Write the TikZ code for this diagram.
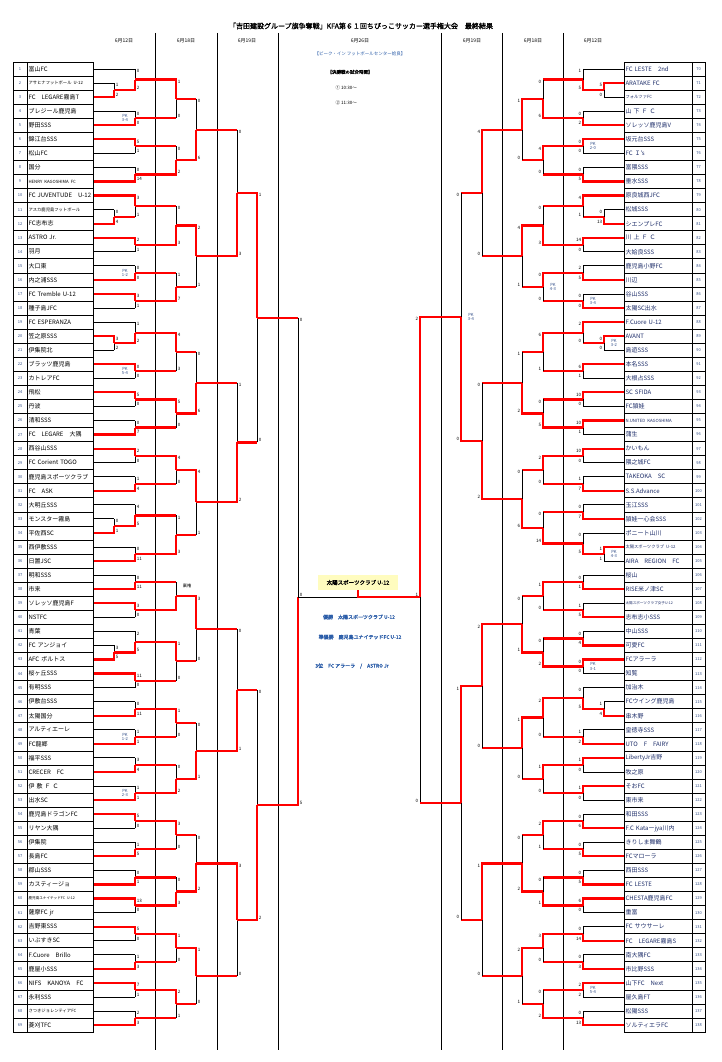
\documentclass[tikz,border=0pt]{standalone}
\usepackage{fontspec}
\setmainfont{Noto Sans CJK JP}
\newfontfamily\jpb[FakeBold=1.5]{Noto Sans CJK JP}
\usetikzlibrary{calc,positioning}

\definecolor{tblue}{HTML}{2A5CA8}
\definecolor{nblue}{HTML}{34508A}
\definecolor{rname}{HTML}{1E2E6A}

\newcommand\sm{\fontsize{4.3}{5}\selectfont}
\newcommand\xs{\fontsize{3.6}{4}\selectfont}

\tikzset{
  team/.style={draw, line width=.7pt, minimum height=14.06pt, inner sep=1.2pt, align=left, font=\fontsize{6}{7}\selectfont},
  num/.style={draw, line width=.7pt, minimum height=14.06pt, inner sep=0pt, font=\fontsize{4}{5}\selectfont, text=nblue},
  rd/.style={red, line width=2.2pt},
  bk/.style={black, line width=.9pt},
  hdr/.style={font=\fontsize{5}{6}\selectfont},
  col/.style={line width=.8pt},
  res/.style={text=tblue, font=\jpb\fontsize{5}{6}\selectfont},
}

% match: name, top in, bottom in, x, top score, bottom score, winner t/b, loser line
\newcommand\mt[8]{%
  \coordinate (#1x) at (#4,0);
  \coordinate (#1a) at (#1x |- #2);
  \coordinate (#1b) at (#1x |- #3);
  \coordinate (#1) at ($(#1a)!.5!(#1b)$);
  \if t#7
    \draw[#8] (#3) -- (#1b);
    \draw[bk] (#1b) -- (#1);
    \draw[rd] (#2) -- (#1a) -- (#1);
  \else
    \draw[#8] (#2) -- (#1a);
    \draw[bk] (#1a) -- (#1);
    \draw[rd] (#3) -- (#1b) -- (#1);
  \fi
  \node[scT] at (#1a) {#5};
  \node[scB] at (#1b) {#6};
}
\newcommand\pk[2]{\node[pk, anchor=south] at (#1) {PK}; \node[pk, anchor=north] at (#1) {#2};}

\begin{document}
\begin{tikzpicture}[x=1pt, y=-1pt]
  \useasboundingbox (0,0) rectangle (722,1062);
  \fill[white] (0,0) rectangle (722,1062);

  % Title and headers
  \node[font=\jpb\fontsize{7}{8}\selectfont] (title) at (361,26) {「吉田建設グループ旗争奪戦」KFA第６１回ちびっこサッカー選手権大会　最終結果};
  \foreach \cx in {155,217,278,441,502,563}
    \draw[col] (\cx,33) -- (\cx,1050);
  \foreach \cx/\d in {124/6月12日, 186/6月18日, 247/6月19日, 360/6月26日, 472/6月19日, 533/6月18日, 593/6月12日}
    \node[hdr] at (\cx,41) {\d};

  % Venue and times
  \node[text=tblue, font=\fontsize{4.5}{5}\selectfont] (venue) at (360,54) {【ピーク・イン フットボールセンター姶良】};
  \node[font=\jpb\fontsize{4.5}{5}\selectfont] (times) at (350,72) {【決勝戦の試合時間】};
  \node[anchor=west, font=\fontsize{4.5}{5}\selectfont] (t1) at (332,88) {① 10:30～};
  \node[anchor=west, font=\fontsize{4.5}{5}\selectfont] (t2) at (332,103) {② 11:30～};

  % Left teams
  \foreach \nm [count=\i] in {富山FC, {\sm アサヒナフットボール U-12}, FC　LEGARE霧島T, ブレジール鹿児島, 野田SSS,
      錦江台SSS, 松山FC, 国分, {\sm HENRY KAGOSHIMA FC}, FC JUVENTUDE　U-12,
      {\sm アスカ鹿児島フットボール}, FC志布志, ASTRO Jr., 羽月, 大口東,
      内之浦SSS, FC Tremble U-12, 種子島JFC, FC ESPERANZA, 笠之原SSS,
      伊集院北, ブラッツ鹿児島, カトレアFC, 飛松, 丹波,
      清和SSS, FC　LEGARE　大隅, 西谷山SSS, FC Corient TOGO, 鹿児島スポーツクラブ,
      FC　ASK, 大明丘SSS, モンスター霧島, 平佐西SC, 西伊敷SSS,
      日置JSC, 明和SSS, 市来, ソレッソ鹿児島F, NSTFC,
      青葉, FC アンジョイ, AFC ボルトス, 桜ヶ丘SSS, 有明SSS,
      伊敷台SSS, 太陽国分, アルティエーレ, FC龍郷, 福平SSS,
      CRECER　FC, 伊 敷 Ｆ Ｃ, 出水SC, 鹿児島ドラゴンFC, リヤン大隅,
      伊集院, 長島FC, 郡山SSS, カスティージョ, {\xs 鹿児島ユナイテッドFC U-12},
      薩摩FC jr, 吉野東SSS, いぶすきSC, F.Cuore　Brillo, 鹿屋小SSS,
      NIFS　KANOYA　FC, 永利SSS, {\sm さつきジョレンティアFC}, 菱刈TFC}{
    \pgfmathsetmacro\yy{69+(\i-1)*14.06}
    \node[num, minimum width=14pt] (N\i) at (20,\yy) {\i};
    \node[team, text width=63.6pt, anchor=west] (T\i) at (27,\yy) {\nm};
  }

  % Right teams
  \foreach \nm [count=\i from 70] in {FC LESTE　2nd, ARATAKE FC, {\sm フォルツァFC}, 山 下 Ｆ Ｃ, ソレッソ鹿児島V,
      坂元台SSS, FC Ｉ's, 富隈SSS, 垂水SSS, 原良城西JFC,
      松城SSS, シエンプレFC, 川 上 Ｆ Ｃ, 大姶良SSS, 鹿児島小野FC,
      川辺, 谷山SSS, 太陽SC出水, F.Cuore U-12, AVANT,
      島遊SSS, 本名SSS, 大根占SSS, SC SFIDA, FC頴娃,
      {\sm N.UNITED KAGOSHIMA}, 蒲生, かいもん, 隈之城FC, TAKEOKA　SC,
      S.S.Advance, 玉江SSS, 頴娃一心会SSS, ポニート山川, {\sm 太陽スポーツクラブ U-12},
      AIRA　REGION　FC, 桜山, RISE米ノ津SC, {\xs 太陽スポーツクラブ女子U-12}, 志布志小SSS,
      中山SSS, 可愛FC, FCアラーラ, 知覧, 加治木,
      FCウイング鹿児島, 串木野, 皇徳寺SSS, UTO　F　FAIRY, LibertyJr吉野,
      牧之原, そおFC, 東市来, 和田SSS, F.C Kataーjya川内,
      きりしま舞鶴, FCマローラ, 西田SSS, FC LESTE, CHESTA鹿児島FC,
      重富, FC サウサーレ, FC　LEGARE霧島S, 南大隅FC, 市比野SSS,
      山下FC　Next, 屋久島FT, 松陽SSS, ソルティエラFC}{
    \pgfmathsetmacro\yy{69+(\i-70)*14.06}
    \node[team, text width=65.6pt, anchor=west, text=rname] (T\i) at (624,\yy) {\nm};
    \node[num, minimum width=13pt] (N\i) at (698.5,\yy) {\i};
  }

  % Left bracket
  \begin{scope}[scT/.style={anchor=north west, inner sep=.4pt, xshift=1.2pt, font=\fontsize{4.5}{5}\selectfont},
      scB/.style={anchor=south west, inner sep=.4pt, xshift=1.2pt, font=\fontsize{4.5}{5}\selectfont},
      pk/.style={xshift=-10pt, inner sep=.4pt, text=nblue, font=\fontsize{4.2}{5}\selectfont}]
    % first round
    \mt{a1}{T2.east}{T3.east}{114}{1}{2}{b}{bk}
    \mt{U1}{T1.east}{a1}{135}{0}{2}{b}{bk}
    \mt{U2}{T4.east}{T5.east}{135}{0}{0}{b}{bk} \pk{U2}{3-4}
    \mt{U3}{T6.east}{T7.east}{135}{5}{1}{t}{bk}
    \mt{U4}{T8.east}{T9.east}{135}{0}{14}{b}{bk}
    \mt{a2}{T11.east}{T12.east}{114}{0}{4}{b}{bk}
    \mt{U5}{T10.east}{a2}{135}{3}{1}{t}{rd}
    \mt{U6}{T13.east}{T14.east}{135}{2}{1}{t}{bk}
    \mt{U7}{T15.east}{T16.east}{135}{0}{0}{b}{bk} \pk{U7}{1-2}
    \mt{U8}{T17.east}{T18.east}{135}{3}{1}{t}{bk}
    \mt{a3}{T20.east}{T21.east}{114}{3}{2}{t}{bk}
    \mt{U9}{T19.east}{a3}{135}{1}{2}{b}{bk}
    \mt{U10}{T22.east}{T23.east}{135}{0}{0}{t}{bk} \pk{U10}{5-4}
    \mt{U11}{T24.east}{T25.east}{135}{5}{0}{t}{bk}
    \mt{U12}{T26.east}{T27.east}{135}{0}{7}{b}{bk}
    \mt{U13}{T28.east}{T29.east}{135}{2}{0}{t}{bk}
    \mt{U14}{T30.east}{T31.east}{135}{1}{4}{b}{bk}
    \mt{a4}{T33.east}{T34.east}{114}{0}{1}{b}{bk}
    \mt{U15}{T32.east}{a4}{135}{4}{5}{b}{bk}
    \mt{U16}{T35.east}{T36.east}{135}{0}{11}{b}{bk}
    \mt{U17}{T37.east}{T38.east}{135}{0}{11}{b}{bk}
    \mt{U18}{T39.east}{T40.east}{135}{3}{0}{t}{bk}
    \mt{a5}{T42.east}{T43.east}{114}{3}{5}{b}{bk}
    \mt{U19}{T41.east}{a5}{135}{2}{5}{b}{bk}
    \mt{U20}{T44.east}{T45.east}{135}{11}{0}{t}{bk}
    \mt{U21}{T46.east}{T47.east}{135}{0}{11}{b}{bk}
    \mt{U22}{T48.east}{T49.east}{135}{1}{1}{b}{bk} \pk{U22}{1-2}
    \mt{U23}{T50.east}{T51.east}{135}{3}{4}{b}{bk}
    \mt{U24}{T52.east}{T53.east}{135}{1}{1}{b}{bk} \pk{U24}{2-3}
    \mt{U25}{T54.east}{T55.east}{135}{5}{0}{t}{bk}
    \mt{U26}{T56.east}{T57.east}{135}{1}{5}{b}{bk}
    \mt{U27}{T58.east}{T59.east}{135}{0}{1}{b}{bk}
    \mt{U28}{T60.east}{T61.east}{135}{13}{0}{t}{bk}
    \mt{U29}{T62.east}{T63.east}{135}{5}{0}{t}{bk}
    \mt{U30}{T64.east}{T65.east}{135}{1}{3}{b}{bk}
    \mt{U31}{T66.east}{T67.east}{135}{7}{1}{t}{bk}
    \mt{U32}{T68.east}{T69.east}{135}{2}{3}{b}{bk}
    % second round
    \mt{V1}{U1}{U2}{176}{1}{0}{t}{rd}
    \mt{V2}{U3}{U4}{176}{0}{2}{b}{rd}
    \mt{V3}{U5}{U6}{176}{0}{3}{b}{rd}
    \mt{V4}{U7}{U8}{176}{1}{7}{b}{rd}
    \mt{V5}{U9}{U10}{176}{4}{3}{t}{rd}
    \mt{V6}{U11}{U12}{176}{5}{0}{t}{rd}
    \mt{V7}{U13}{U14}{176}{4}{0}{t}{rd}
    \mt{V8}{U15}{U16}{176}{1}{3}{b}{rd}
    \mt{V9}{U17}{U18}{176}{}{}{b}{rd}
    \node[font=\fontsize{4.2}{5}\selectfont] (forfeit) at (187,586) {棄権};
    \mt{V10}{U19}{U20}{176}{1}{0}{t}{rd}
    \mt{V11}{U21}{U22}{176}{1}{0}{t}{rd}
    \mt{V12}{U23}{U24}{176}{0}{2}{b}{rd}
    \mt{V13}{U25}{U26}{176}{3}{0}{t}{rd}
    \mt{V14}{U27}{U28}{176}{0}{3}{b}{rd}
    \mt{V15}{U29}{U30}{176}{1}{0}{t}{rd}
    \mt{V16}{U31}{U32}{176}{2}{1}{t}{rd}
    % third round
    \mt{W1}{V1}{V2}{196}{0}{6}{b}{rd}
    \mt{W2}{V3}{V4}{196}{2}{1}{t}{rd}
    \mt{W3}{V5}{V6}{196}{0}{6}{b}{rd}
    \mt{W4}{V7}{V8}{196}{4}{1}{t}{rd}
    \mt{W5}{V9}{V10}{196}{3}{0}{t}{rd}
    \mt{W6}{V11}{V12}{196}{0}{1}{b}{rd}
    \mt{W7}{V13}{V14}{196}{0}{2}{b}{rd}
    \mt{W8}{V15}{V16}{196}{1}{0}{t}{rd}
    % fourth and fifth round
    \mt{X1}{W1}{W2}{237}{0}{3}{b}{rd}
    \mt{X2}{W3}{W4}{237}{1}{2}{b}{rd}
    \mt{X3}{W5}{W6}{237}{0}{1}{b}{rd}
    \mt{X4}{W7}{W8}{237}{3}{0}{t}{rd}
    \mt{Y1}{X1}{X2}{257}{1}{0}{t}{rd}
    \mt{Y2}{X3}{X4}{257}{0}{2}{b}{rd}
    % semifinal
    \coordinate (LF) at (298,597);
    \draw[bk] (LF |- Y1) -- (LF);
    \draw[rd] (Y1) -- (LF |- Y1);
    \draw[rd] (Y2) -- (LF |- Y2) -- (LF);
    \node[scT] at (LF |- Y1) {0};
    \node[scB] at (LF |- Y2) {5};
    \node[scB] at (LF) {0};
  \end{scope}

  % Right bracket
  \begin{scope}[scT/.style={anchor=north east, inner sep=.4pt, xshift=-1.2pt, font=\fontsize{4.5}{5}\selectfont},
      scB/.style={anchor=south east, inner sep=.4pt, xshift=-1.2pt, font=\fontsize{4.5}{5}\selectfont},
      pk/.style={xshift=10pt, inner sep=.4pt, text=nblue, font=\fontsize{4.2}{5}\selectfont}]
    % first round
    \mt{b1}{T71.west}{T72.west}{604}{5}{0}{t}{bk}
    \mt{P1}{T70.west}{b1}{583}{1}{5}{b}{bk}
    \mt{P2}{T73.west}{T74.west}{583}{0}{2}{b}{bk}
    \mt{P3}{T75.west}{T76.west}{583}{0}{0}{t}{bk} \pk{P3}{2-0}
    \mt{P4}{T77.west}{T78.west}{583}{0}{5}{b}{bk}
    \mt{b2}{T80.west}{T81.west}{604}{0}{13}{b}{bk}
    \mt{P5}{T79.west}{b2}{583}{4}{1}{t}{rd}
    \mt{P6}{T82.west}{T83.west}{583}{14}{0}{t}{bk}
    \mt{P7}{T84.west}{T85.west}{583}{2}{5}{b}{bk}
    \mt{P8}{T86.west}{T87.west}{583}{0}{0}{b}{bk} \pk{P8}{3-4}
    \mt{b3}{T89.west}{T90.west}{604}{0}{0}{t}{bk} \pk{b3}{3-2}
    \mt{P9}{T88.west}{b3}{583}{2}{0}{t}{rd}
    \mt{P10}{T91.west}{T92.west}{583}{6}{1}{t}{bk}
    \mt{P11}{T93.west}{T94.west}{583}{10}{0}{t}{bk}
    \mt{P12}{T95.west}{T96.west}{583}{10}{1}{t}{bk}
    \mt{P13}{T97.west}{T98.west}{583}{10}{0}{t}{bk}
    \mt{P14}{T99.west}{T100.west}{583}{1}{7}{b}{bk}
    \mt{P15}{T101.west}{T102.west}{583}{0}{7}{b}{bk}
    \mt{b4}{T104.west}{T105.west}{604}{1}{1}{t}{bk} \pk{b4}{4-3}
    \mt{P16}{T103.west}{b4}{583}{0}{5}{b}{bk}
    \mt{P17}{T106.west}{T107.west}{583}{0}{1}{b}{bk}
    \mt{P18}{T108.west}{T109.west}{583}{1}{5}{b}{bk}
    \mt{P19}{T110.west}{T111.west}{583}{0}{4}{b}{bk}
    \mt{P20}{T112.west}{T113.west}{583}{0}{0}{t}{bk} \pk{P20}{3-1}
    \mt{b5}{T115.west}{T116.west}{604}{1}{4}{b}{bk}
    \mt{P21}{T114.west}{b5}{583}{0}{5}{b}{bk}
    \mt{P22}{T117.west}{T118.west}{583}{1}{2}{b}{bk}
    \mt{P23}{T119.west}{T120.west}{583}{1}{0}{t}{bk}
    \mt{P24}{T121.west}{T122.west}{583}{1}{0}{t}{bk}
    \mt{P25}{T123.west}{T124.west}{583}{0}{6}{b}{bk}
    \mt{P26}{T125.west}{T126.west}{583}{0}{5}{b}{bk}
    \mt{P27}{T127.west}{T128.west}{583}{0}{5}{b}{bk}
    \mt{P28}{T129.west}{T130.west}{583}{6}{0}{t}{bk}
    \mt{P29}{T131.west}{T132.west}{583}{0}{14}{b}{bk}
    \mt{P30}{T133.west}{T134.west}{583}{0}{3}{b}{bk}
    \mt{P31}{T135.west}{T136.west}{583}{2}{2}{t}{bk} \pk{P31}{5-4}
    \mt{P32}{T137.west}{T138.west}{583}{0}{13}{b}{bk}
    % second round
    \mt{Q1}{P1}{P2}{543}{0}{6}{b}{rd}
    \mt{Q2}{P3}{P4}{543}{4}{0}{t}{rd}
    \mt{Q3}{P5}{P6}{543}{0}{3}{b}{rd}
    \mt{Q4}{P7}{P8}{543}{0}{0}{t}{rd} \pk{Q4}{4-3}
    \mt{Q5}{P9}{P10}{543}{6}{1}{t}{rd}
    \mt{Q6}{P11}{P12}{543}{0}{5}{b}{rd}
    \mt{Q7}{P13}{P14}{543}{2}{0}{t}{rd}
    \mt{Q8}{P15}{P16}{543}{0}{14}{b}{rd}
    \mt{Q9}{P17}{P18}{543}{1}{0}{t}{rd}
    \mt{Q10}{P19}{P20}{543}{0}{2}{b}{rd}
    \mt{Q11}{P21}{P22}{543}{2}{0}{t}{rd}
    \mt{Q12}{P23}{P24}{543}{1}{0}{t}{rd}
    \mt{Q13}{P25}{P26}{543}{2}{1}{t}{rd}
    \mt{Q14}{P27}{P28}{543}{0}{1}{b}{rd}
    \mt{Q15}{P29}{P30}{543}{3}{0}{t}{rd}
    \mt{Q16}{P31}{P32}{543}{0}{2}{b}{rd}
    % third round
    \mt{S1}{Q1}{Q2}{522}{1}{0}{t}{rd}
    \mt{S2}{Q3}{Q4}{522}{4}{1}{t}{rd}
    \mt{S3}{Q5}{Q6}{522}{1}{2}{b}{rd}
    \mt{S4}{Q7}{Q8}{522}{0}{6}{b}{rd}
    \mt{S5}{Q9}{Q10}{522}{0}{1}{b}{rd}
    \mt{S6}{Q11}{Q12}{522}{1}{0}{t}{rd}
    \mt{S7}{Q13}{Q14}{522}{0}{2}{b}{rd}
    \mt{S8}{Q15}{Q16}{522}{2}{1}{t}{rd}
    % fourth and fifth round
    \mt{Z1}{S1}{S2}{482}{4}{0}{t}{rd}
    \mt{Z2}{S3}{S4}{482}{0}{2}{b}{rd}
    \mt{Z3}{S5}{S6}{482}{2}{0}{t}{rd}
    \mt{Z4}{S7}{S8}{482}{1}{0}{t}{rd}
    \mt{Z5}{Z1}{Z2}{461}{0}{0}{b}{rd} \pk{Z5}{3-4}
    \mt{Z6}{Z3}{Z4}{461}{1}{0}{t}{rd}
    % semifinal
    \coordinate (RF) at (420,597);
    \draw[bk] (RF |- Z6) -- (RF);
    \draw[rd] (Z6) -- (RF |- Z6);
    \draw[rd] (Z5) -- (RF |- Z5) -- (RF);
    \node[scT] at (RF |- Z5) {2};
    \node[scB] at (RF |- Z6) {0};
    \node[scB] at (RF) {1};
  \end{scope}

  % Final
  \node[fill=yellow!25, minimum width=80pt, minimum height=15pt, inner sep=0pt, font=\jpb\fontsize{5.5}{6}\selectfont] (champ) at (358,582.5) {太陽スポーツクラブ U-12};
  \coordinate (FM) at (358,597);
  \draw[bk] (LF) -- (FM);
  \draw[rd] (RF) -- (FM) -- (champ.south);

  % Results
  \node[res] (win) at (359,617) {優勝\quad 太陽スポーツクラブ U-12};
  \node[res] (second) at (360,637) {準優勝\quad 鹿児島ユナイテッドFC U-12};
  \node[res] (third) at (352,666) {3位\quad FC アラーラ\quad /\quad ASTRO Jr};
\end{tikzpicture}
\end{document}
